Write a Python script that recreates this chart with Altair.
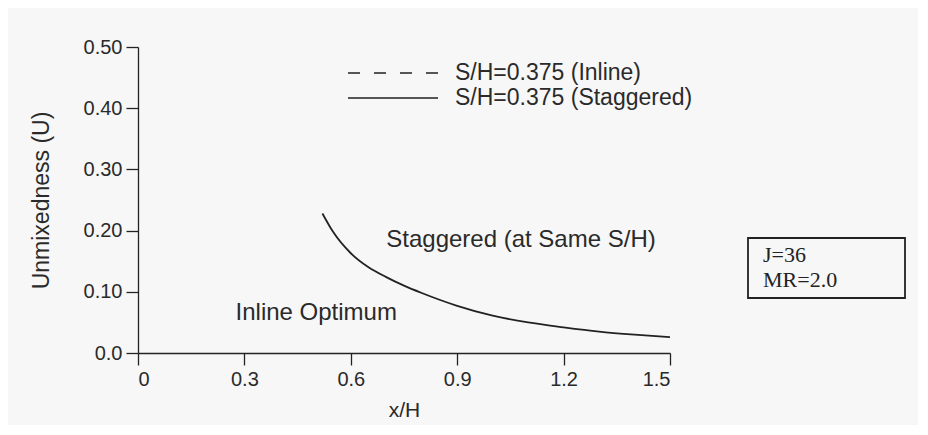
import altair as alt
import pandas as pd

# ---- data ----
x_vals = [0.52, 0.55, 0.60, 0.65, 0.70, 0.75, 0.80, 0.85, 0.90, 1.00, 1.10, 1.20, 1.30, 1.40, 1.50]
u_vals = [0.228, 0.198, 0.163, 0.140, 0.124, 0.110, 0.098, 0.087, 0.077, 0.061, 0.050, 0.042, 0.035, 0.030, 0.026]
x_ticks = [0, 0.3, 0.6, 0.9, 1.2, 1.5]
y_ticks = [0, 0.1, 0.2, 0.3, 0.4, 0.5]
legend_labels = ["S/H=0.375 (Inline)", "S/H=0.375 (Staggered)"]
note_texts = ["Staggered (at Same S/H)", "Inline Optimum"]
note_x = [0.70, 0.275]
note_u = [0.185, 0.065]
box_lines = ["J=36", "MR=2.0"]

W, H = 532, 306
FONT = "Liberation Sans"
INK = "#222222"
TXT = "#2a2a2a"

df = pd.DataFrame({"x": x_vals, "u": u_vals})
notes_df = pd.DataFrame({"label": note_texts, "x": note_x, "u": note_u})

xscale = alt.Scale(domain=[0, 1.5], nice=False, zero=False)
yscale = alt.Scale(domain=[0, 0.5], nice=False, zero=False)

curve = alt.Chart(df).mark_line(color=INK, strokeWidth=1.8, interpolate="monotone").encode(
    x=alt.X("x:Q", scale=xscale, axis=alt.Axis(
        values=x_ticks, title="x/H", tickSize=12, labelPadding=4, titlePadding=10,
        titleFontSize=21,
        labelExpr="datum.value == 0 ? '0' : format(datum.value, '.1f')")),
    y=alt.Y("u:Q", scale=yscale, axis=alt.Axis(
        values=y_ticks, title="Unmixedness (U)", tickSize=12, labelPadding=4, titlePadding=30,
        labelExpr="datum.value == 0 ? '0.0' : format(datum.value, '.2f')")),
)

notes = alt.Chart(notes_df).mark_text(
    align="left", baseline="middle", font=FONT, fontSize=24, color=TXT
).encode(x=alt.X("x:Q", scale=xscale), y=alt.Y("u:Q", scale=yscale), text="label:N")

layers = [curve, notes]

# hand-drawn legend (line sample + label)
leg_y = [26, 51]
leg_dash = [[12, 14], [1, 0]]
for lab, yy, dash in zip(legend_labels, leg_y, leg_dash):
    ldf = pd.DataFrame({"label": [lab]})
    layers.append(alt.Chart(ldf).mark_rule(color=INK, strokeWidth=1.4, strokeDash=dash).encode(
        x=alt.value(210), x2=alt.value(300), y=alt.value(yy)))
    layers.append(alt.Chart(ldf).mark_text(
        align="left", baseline="middle", font=FONT, fontSize=23, color=TXT).encode(
        x=alt.value(317), y=alt.value(yy), text="label:N"))

# parameter box
bdf = pd.DataFrame({"label": ["\n".join(box_lines)]})
layers.append(alt.Chart(bdf).mark_rect(fill="transparent", stroke=INK, strokeWidth=1.8).encode(
    x=alt.value(610), x2=alt.value(767), y=alt.value(191), y2=alt.value(251)))
for i, line in enumerate(box_lines):
    tdf = pd.DataFrame({"label": [line]})
    layers.append(alt.Chart(tdf).mark_text(
        align="left", baseline="middle", font="Liberation Serif", fontSize=22, color=INK).encode(
        x=alt.value(625), y=alt.value(208 + 25 * i), text="label:N"))

chart = alt.layer(*layers).properties(
    width=W, height=H,
    background="#f7f7f7",
    autosize=alt.AutoSizeParams(type="none"),
    padding={"left": 130, "top": 39, "right": 248, "bottom": 72},
).configure_view(stroke=None).configure_axis(
    grid=False, domainColor=INK, domainWidth=1.3, tickColor=INK, tickWidth=1.3,
    labelColor=TXT, titleColor=TXT, labelFont=FONT, titleFont=FONT,
    labelFontSize=20, titleFontSize=23, titleFontWeight="normal",
)

chart.save("out.html", embed_options={"renderer": "svg", "actions": False})
